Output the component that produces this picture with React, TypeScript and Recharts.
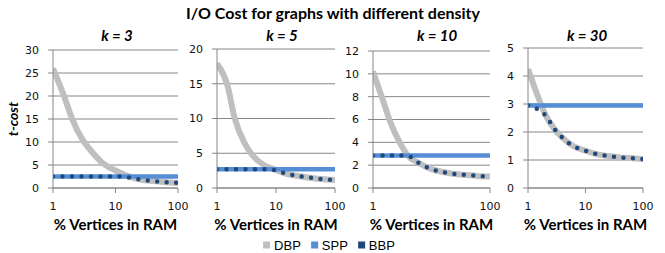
import React from "react";
import { LineChart, Line, XAxis, YAxis, CartesianGrid } from "recharts";

// % vertices in RAM (log axis)
const xValues = [1, 1.5, 2, 3, 4, 6, 10, 15, 25, 40, 60, 100];

const dbpK3 = [26, 20, 15.2, 10.4, 8.2, 5.6, 3.8, 2.7, 1.85, 1.5, 1.3, 1.1];
const sppK3 = [2.5, 2.5, 2.5, 2.5, 2.5, 2.5, 2.5, 2.5, 2.5, 2.5, 2.5, 2.5];
const bbpK3 = [2.5, 2.5, 2.5, 2.5, 2.5, 2.5, 2.5, 2.35, 1.85, 1.5, 1.3, 1.1];

const dbpK5 = [17.9, 14.8, 10, 6.3, 4.7, 3.4, 2.6, 2.05, 1.7, 1.45, 1.28, 1.15];
const sppK5 = [2.7, 2.7, 2.7, 2.7, 2.7, 2.7, 2.7, 2.7, 2.7, 2.7, 2.7, 2.7];
const bbpK5 = [2.7, 2.7, 2.7, 2.7, 2.7, 2.7, 2.55, 2.05, 1.7, 1.45, 1.28, 1.15];

const dbpK10 = [10.2, 7.6, 5.7, 3.8, 2.8, 2.2, 1.65, 1.42, 1.23, 1.14, 1.06, 1.0];
const sppK10 = [2.85, 2.85, 2.85, 2.85, 2.85, 2.85, 2.85, 2.85, 2.85, 2.85, 2.85, 2.85];
const bbpK10 = [2.85, 2.85, 2.85, 2.85, 2.8, 2.2, 1.65, 1.42, 1.23, 1.14, 1.06, 1.0];

const dbpK30 = [4.25, 3.25, 2.62, 2.06, 1.79, 1.51, 1.33, 1.22, 1.14, 1.09, 1.07, 1.03];
const sppK30 = [2.95, 2.95, 2.95, 2.95, 2.95, 2.95, 2.95, 2.95, 2.95, 2.95, 2.95, 2.95];
const bbpK30 = [2.95, 2.8, 2.6, 2.06, 1.79, 1.51, 1.33, 1.22, 1.14, 1.09, 1.07, 1.03];

const yTicksK3 = [0, 5, 10, 15, 20, 25, 30];
const yTicksK5 = [0, 5, 10, 15, 20];
const yTicksK10 = [0, 2, 4, 6, 8, 10, 12];
const yTicksK30 = [0, 1, 2, 3, 4, 5];

const xTicksFull = [1, 10, 100];
const xTicksK10 = [1, 100];

const GRAY = "#bfbfbf";
const BLUE = "#558ed5";
const NAVY = "#1f497d";
const GRID = "#868686";
const TEXT_FONT = "Lato, 'Open Sans', sans-serif";
const TICK_FONT = "'DejaVu Sans', Verdana, sans-serif";

const makeRows = (dbp: number[], spp: number[], bbp: number[]) =>
  xValues.map((x, i) => ({ x, dbp: dbp[i], spp: spp[i], bbp: bbp[i] }));

// left = chart left edge, plotW = width of the plotting area
const panels = [
  { title: "k = 3", rows: makeRows(dbpK3, sppK3, bbpK3), yTicks: yTicksK3, xTicks: xTicksFull, left: 13, plotW: 125, top: 50, titleX: 117 },
  { title: "k = 5", rows: makeRows(dbpK5, sppK5, bbpK5), yTicks: yTicksK5, xTicks: xTicksFull, left: 177, plotW: 118, top: 49, titleX: 282 },
  { title: "k = 10", rows: makeRows(dbpK10, sppK10, bbpK10), yTicks: yTicksK10, xTicks: xTicksK10, left: 333, plotW: 117, top: 51, titleX: 437 },
  { title: "k = 30", rows: makeRows(dbpK30, sppK30, bbpK30), yTicks: yTicksK30, xTicks: xTicksFull, left: 488, plotW: 115, top: 48, titleX: 587 },
];

const H = 253;
const YW = 40;
const XH = 30;
const RM = 14;
const PLOT_BOTTOM = 188;

const legendItems = [
  { name: "DBP", color: GRAY },
  { name: "SPP", color: BLUE },
  { name: "BBP", color: NAVY },
];

const tickStyle = { fontSize: 11, fontFamily: TICK_FONT, fill: "#111" };

export default function App() {
  return (
    <div style={{ position: "absolute", left: 0, top: 0, width: 665, height: 253, background: "#fff", overflow: "hidden" }}>
      <div
        style={{
          position: "absolute", left: 333, top: 12, transform: "translate(-50%, -50%)",
          fontFamily: TEXT_FONT, fontWeight: 700, fontSize: 16, whiteSpace: "nowrap", color: "#000",
        }}
      >
        I/O Cost for graphs with different density
      </div>
      <div
        style={{
          position: "absolute", left: 12, top: 119, transform: "translate(-50%, -50%) rotate(-90deg)",
          fontFamily: TEXT_FONT, fontWeight: 700, fontStyle: "italic", fontSize: 14, whiteSpace: "nowrap",
        }}
      >
        t-cost
      </div>
      {panels.map((p) => (
        <React.Fragment key={p.title}>
          <div
            style={{
              position: "absolute", left: p.titleX, top: 35, transform: "translate(-50%, -50%)",
              fontFamily: TEXT_FONT, fontWeight: 700, fontStyle: "italic", fontSize: 15, whiteSpace: "nowrap",
            }}
          >
            {p.title}
          </div>
          <div
            style={{
              position: "absolute", left: p.left + YW + p.plotW / 2, top: 224, transform: "translate(-50%, -50%)",
              fontFamily: TEXT_FONT, fontWeight: 700, fontSize: 15, whiteSpace: "nowrap",
            }}
          >
            % Vertices in RAM
          </div>
          <div style={{ position: "absolute", left: p.left, top: 0 }}>
            <LineChart
              width={YW + p.plotW + RM}
              height={H}
              data={p.rows}
              margin={{ top: p.top, right: RM, bottom: H - PLOT_BOTTOM - XH, left: 0 }}
            >
              <CartesianGrid vertical={false} stroke={GRID} strokeWidth={1} />
              <XAxis
                dataKey="x"
                type="number"
                scale="log"
                domain={[1, 100]}
                ticks={p.xTicks}
                height={XH}
                stroke={GRID}
                tickSize={5}
                tickMargin={9}
                tick={tickStyle}
                interval={0}
                allowDataOverflow
              />
              <YAxis
                type="number"
                domain={[p.yTicks[0], p.yTicks[p.yTicks.length - 1]]}
                ticks={p.yTicks}
                width={YW}
                stroke={GRID}
                tickSize={5}
                tickMargin={9}
                tick={tickStyle}
                interval={0}
              />
              <Line dataKey="dbp" type="monotone" stroke={GRAY} strokeWidth={6} dot={false} isAnimationActive={false} />
              <Line dataKey="spp" type="monotone" stroke={BLUE} strokeWidth={4.5} dot={false} isAnimationActive={false} />
              <Line
                dataKey="bbp"
                type="monotone"
                stroke={NAVY}
                strokeWidth={4.5}
                strokeDasharray="0 9.5"
                strokeLinecap="round"
                dot={false}
                isAnimationActive={false}
              />
            </LineChart>
          </div>
        </React.Fragment>
      ))}
      <div
        style={{
          position: "absolute", left: 329, top: 245, transform: "translate(-50%, -50%)",
          display: "flex", alignItems: "center", gap: 10,
          fontFamily: "'Liberation Sans', Arial, sans-serif", fontSize: 13, whiteSpace: "nowrap",
        }}
      >
        {legendItems.map((it) => (
          <div key={it.name} style={{ display: "flex", alignItems: "center", gap: 4 }}>
            <span style={{ display: "inline-block", width: 7, height: 7, background: it.color }} />
            <span>{it.name}</span>
          </div>
        ))}
      </div>
    </div>
  );
}
